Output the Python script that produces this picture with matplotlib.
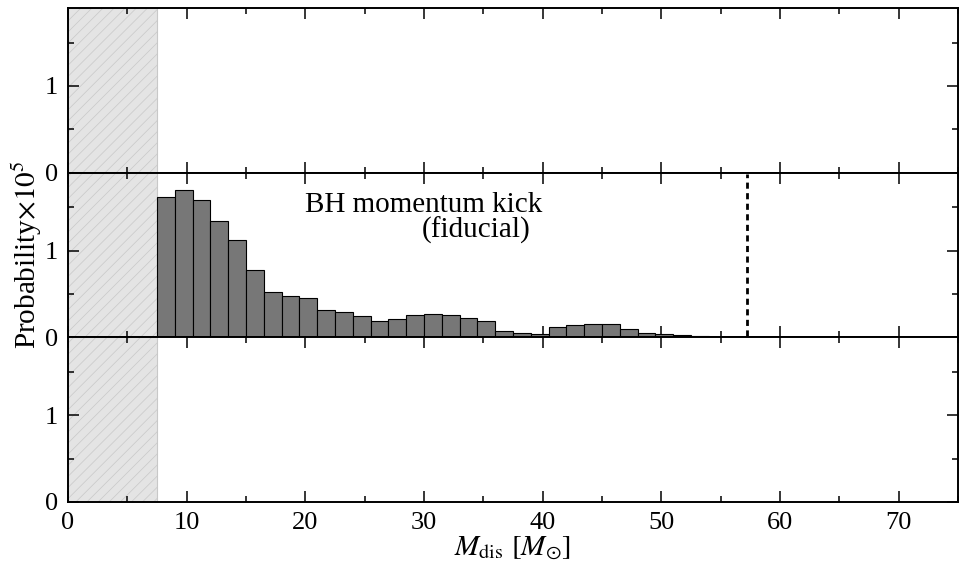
import numpy as np
import matplotlib
matplotlib.use("Agg")
import matplotlib.pyplot as plt
from matplotlib.ticker import MultipleLocator

# ---------- フォント ----------
plt.rcParams["font.family"] = ["Liberation Serif", "DejaVu Serif"]
plt.rcParams["mathtext.fontset"] = "stix"
plt.rcParams["font.size"] = 19
plt.rcParams["hatch.linewidth"] = 0.5
plt.rcParams["hatch.color"] = "#c8c8c8"
# ------------------------------

# ====== データ（Probability x 1e5）======
bin_edges = [7.5 + 1.5 * i for i in range(32)]  # 7.5 ... 54.0
kick_prob = [1.62, 1.70, 1.58, 1.34, 1.12, 0.78, 0.52, 0.48, 0.45, 0.32,
             0.29, 0.25, 0.19, 0.21, 0.26, 0.27, 0.26, 0.22, 0.185, 0.07,
             0.05, 0.04, 0.12, 0.14, 0.15, 0.15, 0.10, 0.05, 0.035, 0.023,
             0.015]
m_min = 7.5          # 灰色の除外領域
m_max_line = 57.2    # 点線
label_lines = ["BH momentum kick", "(fiducial)"]
# ========================================

fig, axes = plt.subplots(3, 1, sharex=True, figsize=(9.61, 5.64), dpi=100)
fig.subplots_adjust(left=68 / 961, right=958 / 961, top=1 - 8 / 564,
                    bottom=1 - 502 / 564, hspace=0)

for i, ax in enumerate(axes):
    ax.axvspan(0, m_min, facecolor="#e4e4e4", edgecolor="#c8c8c8",
               hatch="///", linewidth=0.8, zorder=0)
    ax.set_xlim(0, 75)
    ax.set_ylim(0, 1.9)
    ax.xaxis.set_major_locator(MultipleLocator(10))
    ax.xaxis.set_minor_locator(MultipleLocator(5))
    ax.yaxis.set_major_locator(MultipleLocator(1))
    ax.yaxis.set_minor_locator(MultipleLocator(0.5))
    ax.tick_params(which="both", direction="in", top=True, right=True,
                   width=1.1, pad=7)
    ax.tick_params(which="major", length=8)
    ax.tick_params(which="minor", length=4.5)
    for sp in ax.spines.values():
        sp.set_linewidth(1.4)

ax2 = axes[1]
ax2.hist(bin_edges[:-1], bins=bin_edges, weights=kick_prob,
         color="#777777", edgecolor="black", linewidth=0.8, zorder=2)
ax2.axvline(m_max_line, ymin=0.01, ymax=0.99, color="black",
            ls=(0, (2.2, 1.6)), lw=2, zorder=3)
ax2.text(20.0, 1.45, label_lines[0], ha="left", va="baseline", fontsize=21)
ax2.text(39.0, 1.15, label_lines[1], ha="right", va="baseline", fontsize=21)
ax2.set_ylabel(r"Probability$\times10^5$", labelpad=1, fontsize=21)

axes[2].set_xlabel(r"$M_{\rm dis}$ $[M_{\odot}]$", labelpad=0, fontsize=21)

fig.savefig("out.png", dpi=100)
